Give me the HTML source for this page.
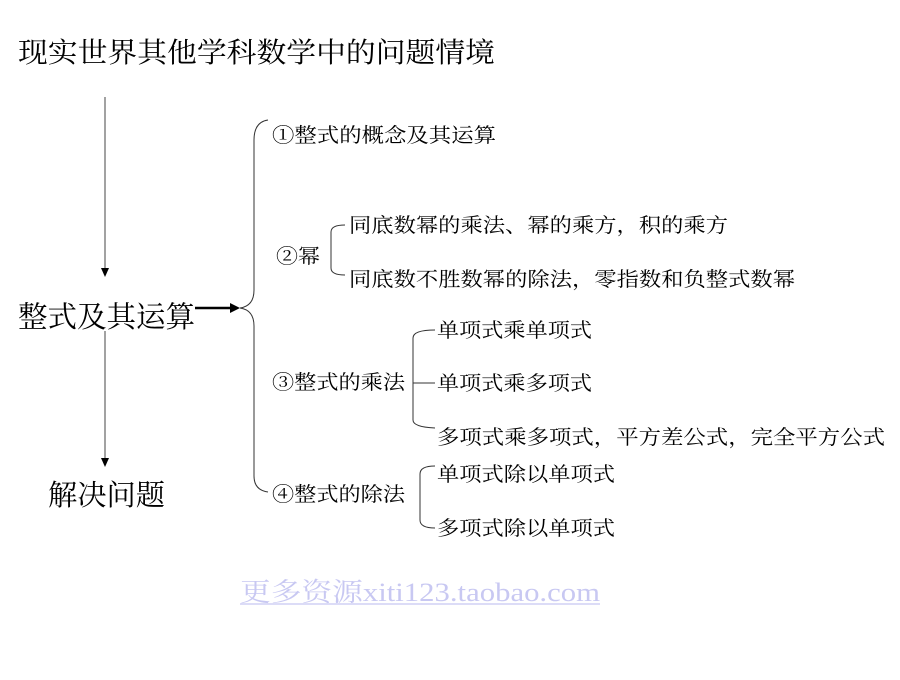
<!DOCTYPE html>
<html><head><meta charset="utf-8"><style>
body{margin:0;background:#fff;width:900px;height:675px;overflow:hidden}
svg text{font-family:"Liberation Serif","Noto Serif CJK SC","Noto Sans CJK SC",serif;fill:#000}
</style></head><body>
<svg width="900" height="675" xmlns="http://www.w3.org/2000/svg">
<text x="18" y="62" font-size="28" textLength="477" lengthAdjust="spacingAndGlyphs">现实世界其他学科数学中的问题情境</text>
<line x1="105" y1="97" x2="105" y2="268" stroke="#444" stroke-width="1"/>
<polygon points="101,268 109,268 105,277" fill="#000"/>
<text x="18" y="327" font-size="29.5" textLength="177" lengthAdjust="spacingAndGlyphs">整式及其运算</text>
<line x1="105" y1="331" x2="105" y2="458" stroke="#444" stroke-width="1"/>
<polygon points="101,458 109,458 105,467" fill="#000"/>
<text x="48" y="505" font-size="29" textLength="117" lengthAdjust="spacingAndGlyphs">解决问题</text>
<line x1="195" y1="308" x2="232" y2="308" stroke="#000" stroke-width="2.5"/>
<polygon points="230,303 240,308 230,313" fill="#000"/>
<path d="M268,120 Q254,122 254,140 L254,290 Q254,306 240,308 Q254,310 254,326 L254,476 Q254,490 268,492" fill="none" stroke="#333" stroke-width="1"/>
<g font-size="20">
<text x="272" y="142" textLength="224" lengthAdjust="spacingAndGlyphs">①整式的概念及其运算</text>
<text x="276" y="263" textLength="44" lengthAdjust="spacingAndGlyphs">②幂</text>
<path d="M345,225 Q331,225 331,232 L331,268 Q331,275 345,275" fill="none" stroke="#333" stroke-width="1"/>
<text x="349" y="232" textLength="379" lengthAdjust="spacingAndGlyphs">同底数幂的乘法、幂的乘方，积的乘方</text>
<text x="349" y="286" textLength="446" lengthAdjust="spacingAndGlyphs">同底数不胜数幂的除法，零指数和负整式数幂</text>
<text x="272" y="389" textLength="133" lengthAdjust="spacingAndGlyphs">③整式的乘法</text>
<path d="M435,330 Q413,330 413,338 L413,420 Q413,427 435,428 M413,383 L435,383" fill="none" stroke="#333" stroke-width="1"/>
<text x="437" y="337" textLength="155" lengthAdjust="spacingAndGlyphs">单项式乘单项式</text>
<text x="437" y="390" textLength="155" lengthAdjust="spacingAndGlyphs">单项式乘多项式</text>
<text x="437" y="444" textLength="448" lengthAdjust="spacingAndGlyphs">多项式乘多项式，平方差公式，完全平方公式</text>
<text x="272" y="501" textLength="133" lengthAdjust="spacingAndGlyphs">④整式的除法</text>
<path d="M435,466 Q420,466 420,474 L420,520 Q420,528 435,528" fill="none" stroke="#333" stroke-width="1"/>
<text x="437" y="481" textLength="178" lengthAdjust="spacingAndGlyphs">单项式除以单项式</text>
<text x="437" y="535" textLength="178" lengthAdjust="spacingAndGlyphs">多项式除以单项式</text>
</g>
<text x="240" y="601" font-size="26" style="fill:#c8c8f2" textLength="360" lengthAdjust="spacingAndGlyphs">更多资源xiti123.taobao.com</text>
<line x1="240" y1="604" x2="600" y2="604" stroke="#c8c8f2" stroke-width="1.2"/>
</svg>
</body></html>
